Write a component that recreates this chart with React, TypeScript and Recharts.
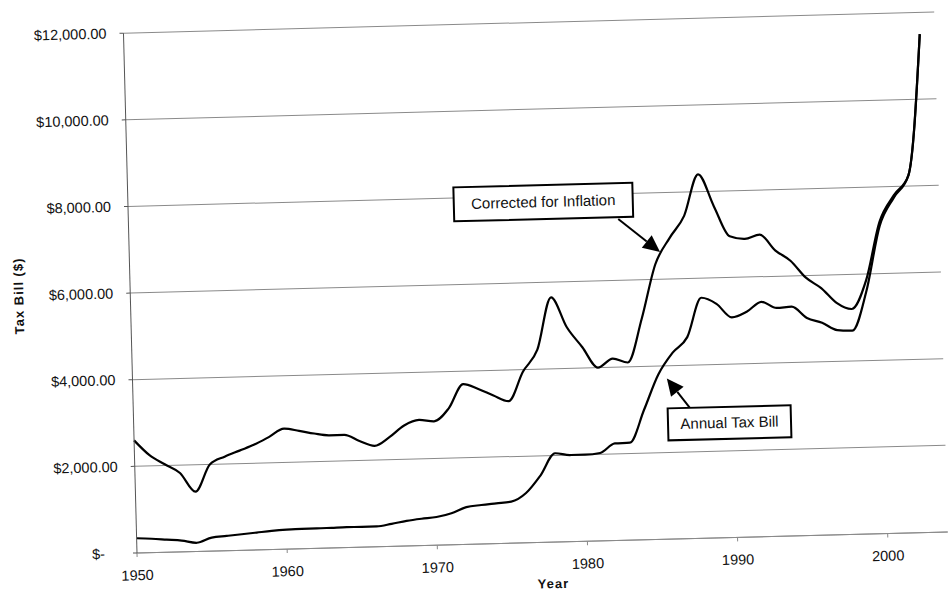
import { CartesianGrid, Line, LineChart, ReferenceDot, XAxis, YAxis } from "recharts";

const years = [
  1950, 1951, 1952, 1953, 1954, 1955, 1956, 1957, 1958, 1959,
  1960, 1961, 1962, 1963, 1964, 1965, 1966, 1967, 1968, 1969,
  1970, 1971, 1972, 1973, 1974, 1975, 1976, 1977, 1978, 1979,
  1980, 1981, 1982, 1983, 1984, 1985, 1986, 1987, 1988, 1989,
  1990, 1991, 1992, 1993, 1994, 1995, 1996, 1997, 1998, 1999,
  2000, 2001, 2002, 2003,
];

const correctedForInflation = [
  2600, 2250, 2030, 1820, 1380, 2000, 2170, 2300, 2430, 2600,
  2780, 2720, 2650, 2600, 2600, 2450, 2330, 2520, 2780, 2900,
  2860, 3150, 3700, 3580, 3420, 3280, 3950, 4450, 5650, 4950,
  4480, 4000, 4200, 4100, 5100, 6350, 6950, 7450, 8400, 7650,
  6950, 6880, 6970, 6600, 6350, 5950, 5700, 5350, 5200, 5850,
  7200, 7800, 8250, 11500,
];

const annualTaxBill = [
  340, 320, 290, 260, 200, 310, 340, 370, 400, 430,
  450, 460, 460, 465, 470, 470, 470, 520, 580, 620,
  650, 730, 860, 900, 930, 960, 1150, 1550, 2050, 2000,
  2000, 2030, 2240, 2250, 3000, 3800, 4300, 4650, 5550, 5400,
  5080, 5200, 5420, 5270, 5290, 5020, 4900, 4720, 4700, 5600,
  7100, 7750, 8250, 11500,
];

const yearTicks = [1950, 1960, 1970, 1980, 1990, 2000];
const valueTicks = [0, 2000, 4000, 6000, 8000, 10000, 12000];

// where the callout arrows point
const inflationCallout = { year: 1985.34, value: 6630, text: "Corrected for Inflation" };
const annualCallout = { year: 1985.57, value: 3710, text: "Annual Tax Bill" };

const data = years.map((year, i) => ({
  year,
  inflation: correctedForInflation[i],
  annual: annualTaxBill[i],
}));

const font = "'Liberation Sans', Arial, sans-serif";

const formatMoney = (v: number) =>
  v === 0
    ? "$-"
    : "$" + v.toLocaleString("en-US", { minimumFractionDigits: 2, maximumFractionDigits: 2 });

const YTick = ({ x, y, payload }: any) => (
  <text
    x={payload.value === 0 ? x - 15 : x}
    y={y}
    dy={5}
    textAnchor="end"
    fontFamily={font}
    fontSize={14.5}
    fill="#111"
  >
    {formatMoney(payload.value)}
  </text>
);

const Arrow = ({ x1, y1, x2, y2 }: any) => {
  const dx = x2 - x1;
  const dy = y2 - y1;
  const len = Math.sqrt(dx * dx + dy * dy);
  const ux = dx / len;
  const uy = dy / len;
  const head = 17;
  const half = 8;
  const bx = x2 - ux * head;
  const by = y2 - uy * head;
  return (
    <g>
      <line x1={x1} y1={y1} x2={bx} y2={by} stroke="#000" strokeWidth={2} />
      <polygon
        points={`${x2},${y2} ${bx - uy * half},${by + ux * half} ${bx + uy * half},${by - ux * half}`}
        fill="#000"
      />
    </g>
  );
};

const Callout = ({ cx, cy, text, box, from }: any) => (
  <g>
    <Arrow x1={cx + from[0]} y1={cy + from[1]} x2={cx} y2={cy} />
    <rect
      x={cx + box[0]}
      y={cy + box[1]}
      width={box[2]}
      height={box[3]}
      fill="#fff"
      stroke="#000"
      strokeWidth={2}
    />
    <text
      x={cx + box[0] + box[2] / 2}
      y={cy + box[1] + box[3] / 2 + 5}
      textAnchor="middle"
      fontFamily={font}
      fontSize={15}
      fill="#111"
    >
      {text}
    </text>
  </g>
);

export default function App() {
  return (
    <div
      style={{
        position: "absolute",
        left: 0,
        top: 0,
        width: 948,
        height: 596,
        overflow: "hidden",
        background: "#fff",
      }}
    >
      <div style={{ transform: "rotate(-1.49deg)", transformOrigin: "137px 553px" }}>
        <LineChart
          width={960}
          height={620}
          data={data}
          margin={{ top: 33, right: 12, left: 0, bottom: 0 }}
        >
          <CartesianGrid vertical={false} stroke="#8a8a8a" strokeWidth={1} />
          <XAxis
            dataKey="year"
            type="number"
            domain={[1950, 2004]}
            ticks={yearTicks}
            height={67}
            stroke="#8a8a8a"
            tickSize={4}
            tickMargin={13}
            tick={{ fontFamily: font, fontSize: 14.5, fill: "#111" }}
            label={{
              content: ({ viewBox }: any) => (
                <text
                  x={viewBox.x + viewBox.width / 2 + 10}
                  y={viewBox.y + 46}
                  textAnchor="middle"
                  fontFamily={font}
                  fontSize={13}
                  fontWeight="bold"
                  letterSpacing={1}
                  fill="#111"
                >
                  Year
                </text>
              ),
            }}
          />
          <YAxis
            type="number"
            domain={[0, 12000]}
            ticks={valueTicks}
            width={137}
            stroke="#555"
            tickSize={4}
            tickMargin={13}
            tick={<YTick />}
            label={{
              content: ({ viewBox }: any) => {
                const x = viewBox.x + 25;
                const y = viewBox.y + viewBox.height / 2;
                return (
                  <text
                    x={x}
                    y={y}
                    transform={`rotate(-90 ${x} ${y})`}
                    textAnchor="middle"
                    dy={5}
                    fontFamily={font}
                    fontSize={13}
                    fontWeight="bold"
                    letterSpacing={1}
                    fill="#111"
                  >
                    Tax Bill ($)
                  </text>
                );
              },
            }}
          />
          <Line
            type="monotone"
            dataKey="inflation"
            stroke="#000"
            strokeWidth={2.2}
            dot={false}
            isAnimationActive={false}
          />
          <Line
            type="monotone"
            dataKey="annual"
            stroke="#000"
            strokeWidth={2.2}
            dot={false}
            isAnimationActive={false}
          />
          <ReferenceDot
            x={inflationCallout.year}
            y={inflationCallout.value}
            shape={(p: any) => (
              <Callout cx={p.cx} cy={p.cy} text={inflationCallout.text} box={[-205, -70, 179, 34]} from={[-41, -34]} />
            )}
          />
          <ReferenceDot
            x={annualCallout.year}
            y={annualCallout.value}
            shape={(p: any) => (
              <Callout cx={p.cx} cy={p.cy} text={annualCallout.text} box={[0, 30, 123, 32]} from={[23, 31]} />
            )}
          />
        </LineChart>
      </div>
    </div>
  );
}
